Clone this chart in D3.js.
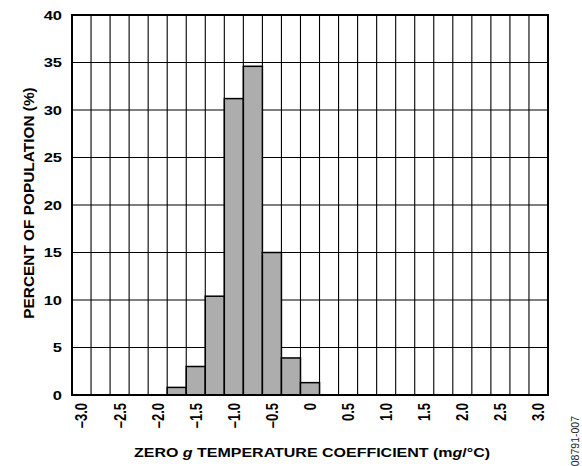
<!DOCTYPE html>
<html>
<head>
<meta charset="utf-8">
<script src="https://cdn.jsdelivr.net/npm/d3@7"></script>
<style>
  body { margin: 0; background: #fff; }
  svg { display: block; }
  text { font-family: "Liberation Sans", Arial, sans-serif; fill: #000; }
</style>
</head>
<body>
<svg id="chart" width="582" height="466"></svg>
<script>
// histogram bins (centre of each 0.25 mg/°C bin) and percent of population
var binCenters = [-3.0, -2.75, -2.5, -2.25, -2.0, -1.75, -1.5, -1.25, -1.0, -0.75, -0.5, -0.25,
                  0, 0.25, 0.5, 0.75, 1.0, 1.25, 1.5, 1.75, 2.0, 2.25, 2.5, 2.75, 3.0];
var percents = [0, 0, 0, 0, 0, 0.8, 3.0, 10.4, 31.2, 34.6, 15.0, 3.9,
                1.3, 0, 0, 0, 0, 0, 0, 0, 0, 0, 0, 0, 0];
var binWidth = 0.25;

var xTickValues = [-3.0, -2.5, -2.0, -1.5, -1.0, -0.5, 0, 0.5, 1.0, 1.5, 2.0, 2.5, 3.0];
var xTickLabels = ["–3.0", "–2.5", "–2.0", "–1.5", "–1.0", "–0.5", "0", "0.5", "1.0", "1.5", "2.0", "2.5", "3.0"];
var yTickValues = [0, 5, 10, 15, 20, 25, 30, 35, 40];

var margin = {top: 15, right: 34, bottom: 71, left: 72};
var width = 582 - margin.left - margin.right;
var height = 466 - margin.top - margin.bottom;
var stretch = 1.27; // the type in the reference is widened horizontally

var svg = d3.select("#chart");
var g = svg.append("g")
    .attr("transform", "translate(" + margin.left + "," + margin.top + ")");

var x = d3.scaleLinear()
    .domain([binCenters[0] - binWidth / 2, binCenters[binCenters.length - 1] + binWidth / 2])
    .range([0, width]);
var y = d3.scaleLinear().domain([0, 40]).range([height, 0]);

// vertical grid on bin edges
var edges = binCenters.map(function(c) { return c - binWidth / 2; });
g.selectAll(".vgrid")
    .data(edges.slice(1))
  .enter().append("line")
    .attr("class", "vgrid")
    .attr("x1", function(d) { return x(d); })
    .attr("x2", function(d) { return x(d); })
    .attr("y1", 0).attr("y2", height)
    .attr("stroke", "#000").attr("stroke-width", 1.1);

// horizontal grid
g.selectAll(".hgrid")
    .data(yTickValues.slice(1, -1))
  .enter().append("line")
    .attr("class", "hgrid")
    .attr("x1", 0).attr("x2", width)
    .attr("y1", function(d) { return y(d); })
    .attr("y2", function(d) { return y(d); })
    .attr("stroke", "#000").attr("stroke-width", 1.1);

// bars
var data = binCenters.map(function(c, i) { return {c: c, v: percents[i]}; })
    .filter(function(d) { return d.v > 0; });
g.selectAll(".bar")
    .data(data)
  .enter().append("rect")
    .attr("class", "bar")
    .attr("x", function(d) { return x(d.c - binWidth / 2); })
    .attr("width", function(d) { return x(d.c + binWidth / 2) - x(d.c - binWidth / 2); })
    .attr("y", function(d) { return y(d.v); })
    .attr("height", function(d) { return height - y(d.v); })
    .attr("fill", "#adadad")
    .attr("stroke", "#000")
    .attr("stroke-width", 1.5);

// frame
g.append("rect")
    .attr("width", width).attr("height", height)
    .attr("fill", "none").attr("stroke", "#000").attr("stroke-width", 2);

// y tick labels
g.selectAll(".ylab")
    .data(yTickValues)
  .enter().append("text")
    .attr("class", "ylab")
    .attr("transform", function(d) { return "translate(-10," + y(d) + ") scale(" + stretch + ",1)"; })
    .attr("dy", "0.36em")
    .attr("text-anchor", "end")
    .style("font-size", "13px")
    .style("font-weight", "bold")
    .text(function(d) { return d; });

// x tick labels, rotated
g.selectAll(".xlab")
    .data(xTickValues)
  .enter().append("text")
    .attr("class", "xlab")
    .attr("transform", function(d) {
        return "translate(" + x(d) + "," + (height + 8) + ") scale(" + stretch + ",1) rotate(-90)";
    })
    .attr("dy", "0.36em")
    .attr("text-anchor", "end")
    .style("font-size", "13px")
    .style("font-weight", "bold")
    .text(function(d, i) { return xTickLabels[i]; });

// axis titles
var xt = svg.append("text")
    .attr("transform", "translate(312,457) scale(" + stretch + ",1)")
    .attr("text-anchor", "middle")
    .style("font-size", "12.6px")
    .style("font-weight", "bold");
xt.append("tspan").text("ZERO ");
xt.append("tspan").style("font-style", "italic").text("g");
xt.append("tspan").text(" TEMPERATURE COEFFICIENT (m");
xt.append("tspan").style("font-style", "italic").text("g");
xt.append("tspan").text("/°C)");

svg.append("text")
    .attr("transform", "translate(34,203) rotate(-90)")
    .attr("text-anchor", "middle")
    .style("font-size", "15.4px")
    .style("font-weight", "bold")
    .text("PERCENT OF POPULATION (%)");

// figure code
svg.append("text")
    .attr("transform", "translate(579,416) rotate(-90)")
    .attr("text-anchor", "end")
    .style("font-size", "10.5px")
    .style("fill", "#222")
    .text("08791-007");
</script>
</body>
</html>
